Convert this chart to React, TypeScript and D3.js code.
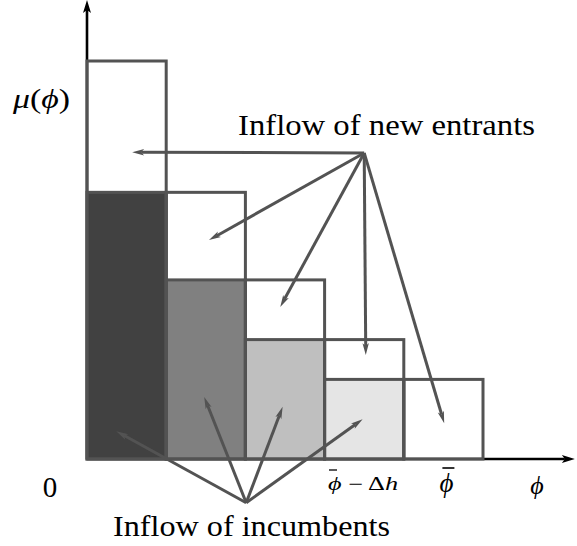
import React from "react";
import * as d3 from "d3";

// ---- data ----
const bins = ["bin1", "bin2", "bin3", "bin4", "bin5"];
const totalMass = [10, 6.7, 4.5, 3.0, 2.0];
const incumbentMass = [6.7, 4.5, 3.0, 2.0, 0];
const fillColors = ["#414141", "#808080", "#bfbfbf", "#e5e5e5", "#ffffff"];

const entrantOrigin: [number, number] = [3.5, 7.69];
const entrantTargets: [number, number][] = [
  [0.57, 7.71],
  [1.54, 5.5],
  [2.44, 3.82],
  [3.52, 2.61],
  [4.51, 0.9],
];
const incumbentOrigin: [number, number] = [2.01, -1.1];
const incumbentTargets: [number, number][] = [
  [0.37, 0.7],
  [1.48, 1.56],
  [2.47, 1.31],
  [3.48, 1.0],
];

const W = 577;
const H = 546;
const GRAY = "#535353";
const FONT = "Liberation Serif";
const tstyle: React.CSSProperties = { fontFamily: FONT };

function Arrow({ x1, y1, x2, y2, color, width, len = 12, half = 3.2 }: any) {
  const dx = x2 - x1;
  const dy = y2 - y1;
  const d = Math.hypot(dx, dy);
  const ux = dx / d;
  const uy = dy / d;
  const bx = x2 - ux * len;
  const by = y2 - uy * len;
  const nx = -uy;
  const ny = ux;
  const pts = [
    [x2, y2],
    [bx + nx * half, by + ny * half],
    [bx + ux * 3, by + uy * 3],
    [bx - nx * half, by - ny * half],
  ]
    .map((p) => p.join(","))
    .join(" ");
  return (
    <g>
      <line x1={x1} y1={y1} x2={bx + ux * 3} y2={by + uy * 3} stroke={color} strokeWidth={width} />
      <polygon points={pts} fill={color} />
    </g>
  );
}

export default function App() {
  const x = d3.scaleLinear().domain([0, 5]).range([87, 483]);
  const y = d3.scaleLinear().domain([0, 10]).range([459, 61]);
  const xMax = 6.16;
  const yMax = 11.53;

  return (
    <svg
      width={W}
      height={H}
      style={{ position: "absolute", left: 0, top: 0, display: "block", background: "#fff", fontFamily: FONT }}
    >
      {/* axes */}
      <Arrow x1={x(0)} y1={y(0)} x2={x(xMax)} y2={y(0)} color="#000" width={2.6} len={13} half={4} />
      <Arrow x1={x(0)} y1={y(0)} x2={x(0)} y2={y(yMax)} color="#000" width={2.6} len={13} half={4} />

      {/* incumbent fills */}
      {bins.map((b, i) =>
        incumbentMass[i] > 0 ? (
          <rect
            key={"f" + b}
            x={x(i)}
            y={y(incumbentMass[i])}
            width={x(i + 1) - x(i)}
            height={y(0) - y(incumbentMass[i])}
            fill={fillColors[i]}
            stroke={GRAY}
            strokeWidth={3}
          />
        ) : null
      )}
      {/* total outlines */}
      {bins.map((b, i) => (
        <rect
          key={"o" + b}
          x={x(i)}
          y={y(totalMass[i])}
          width={x(i + 1) - x(i)}
          height={y(0) - y(totalMass[i])}
          fill="none"
          stroke={GRAY}
          strokeWidth={3}
        />
      ))}

      {/* arrows: new entrants */}
      {entrantTargets.map((t, i) => (
        <Arrow
          key={"e" + i}
          x1={x(entrantOrigin[0])}
          y1={y(entrantOrigin[1])}
          x2={x(t[0])}
          y2={y(t[1])}
          color={GRAY}
          width={3}
        />
      ))}
      {/* arrows: incumbents */}
      {incumbentTargets.map((t, i) => (
        <Arrow
          key={"i" + i}
          x1={x(incumbentOrigin[0])}
          y1={y(incumbentOrigin[1])}
          x2={x(t[0])}
          y2={y(t[1])}
          color={GRAY}
          width={3}
        />
      ))}

      {/* texts */}
      <text x={238} y={135} fontSize={30} textLength={297} lengthAdjust="spacingAndGlyphs" fill="#000" style={tstyle}>
        Inflow of new entrants
      </text>
      <text x={113} y={536} fontSize={30} textLength={277} lengthAdjust="spacingAndGlyphs" fill="#000" style={tstyle}>
        Inflow of incumbents
      </text>

      <text x={13} y={108} fontSize={27} fill="#000" style={tstyle} textLength={57} lengthAdjust="spacingAndGlyphs">
        <tspan fontStyle="italic">μ</tspan>(<tspan fontStyle="italic">ϕ</tspan>)
      </text>

      <text x={50} y={497} fontSize={29} textAnchor="middle" fill="#000" style={tstyle}>
        0
      </text>

      {/* phi-bar minus Delta h */}
      <g>
        <text x={328} y={490} fontSize={18} fill="#000" style={tstyle} textLength={70} lengthAdjust="spacingAndGlyphs">
          <tspan fontStyle="italic">ϕ</tspan> − Δ<tspan fontStyle="italic">h</tspan>
        </text>
        <line x1={329} x2={337} y1={470} y2={470} stroke="#000" strokeWidth={1.3} />
      </g>
      {/* phi-bar */}
      <g>
        <text x={x(4.5) + 3} y={492} fontSize={27} textAnchor="middle" fontStyle="italic" fill="#000" style={tstyle}>
          ϕ
        </text>
        <line x1={x(4.5) - 1} x2={x(4.5) + 11} y1={468} y2={468} stroke="#000" strokeWidth={1.6} />
      </g>
      <text x={537} y={494} fontSize={26} textAnchor="middle" fontStyle="italic" fill="#000" style={tstyle}>
        ϕ
      </text>
    </svg>
  );
}
